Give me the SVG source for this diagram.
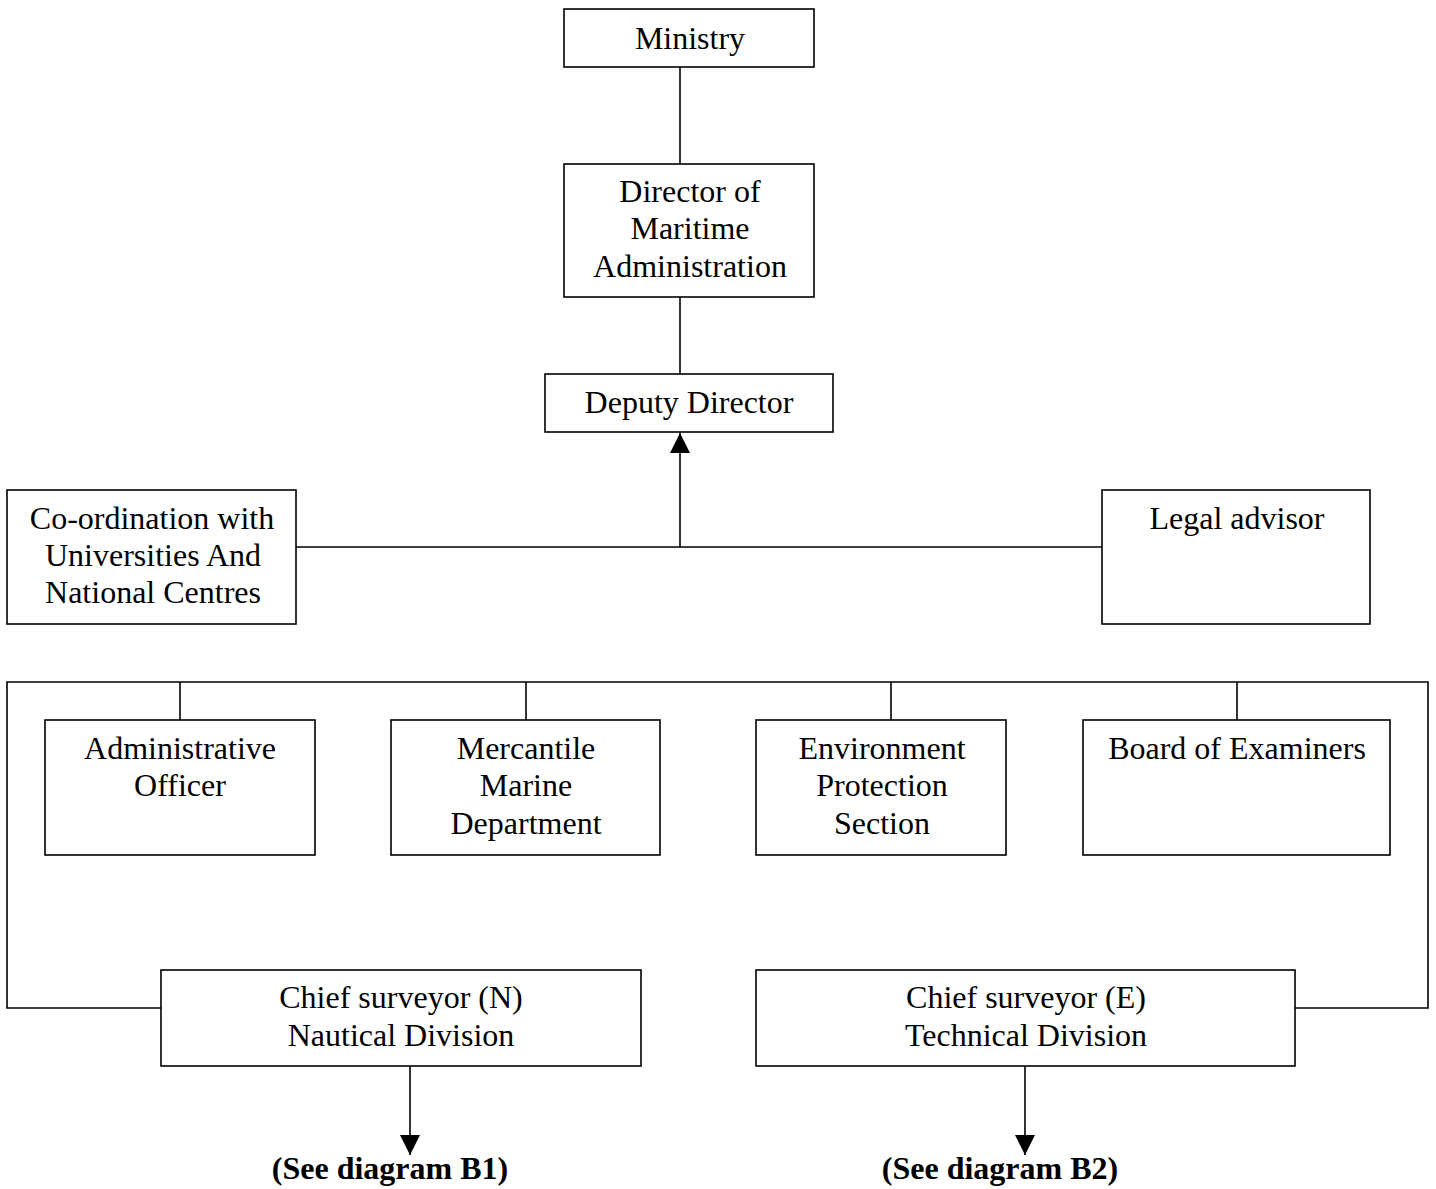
<svg xmlns="http://www.w3.org/2000/svg" width="1436" height="1189" viewBox="0 0 1436 1189">
<style>
.box{fill:#fff;stroke:#000;stroke-width:1.6}
.ln{fill:none;stroke:#000;stroke-width:1.6}
text{font-family:"Liberation Serif","Times New Roman",serif;font-size:32px;fill:#000;text-anchor:middle}
.b{font-weight:bold}
</style>
<defs>
<marker id="ah" viewBox="0 0 20 20" refX="20" refY="10" markerWidth="20" markerHeight="20" markerUnits="userSpaceOnUse" orient="auto">
<path d="M0,0 L20,10 L0,20 Z" fill="#000"/>
</marker>
</defs>
<g id="connectors">
<line class="ln" x1="680" y1="67" x2="680" y2="164"/>
<line class="ln" x1="680" y1="297" x2="680" y2="374"/>
<line class="ln" x1="296" y1="547" x2="1102" y2="547"/>
<line class="ln" x1="680" y1="547" x2="680" y2="433" marker-end="url(#ah)"/>
<polyline class="ln" points="161,1008 7,1008 7,682 1428,682 1428,1008 1295,1008"/>
<line class="ln" x1="180" y1="682" x2="180" y2="720"/>
<line class="ln" x1="526" y1="682" x2="526" y2="720"/>
<line class="ln" x1="891" y1="682" x2="891" y2="720"/>
<line class="ln" x1="1237" y1="682" x2="1237" y2="720"/>
<line class="ln" x1="410" y1="1066" x2="410" y2="1155" marker-end="url(#ah)"/>
<line class="ln" x1="1025" y1="1066" x2="1025" y2="1155" marker-end="url(#ah)"/>
</g>
<g id="ministry">
<rect class="box" x="564" y="9" width="250" height="58"/>
<text x="690" y="49">Ministry</text>
</g>
<g id="director">
<rect class="box" x="564" y="164" width="250" height="133"/>
<text x="690" y="202">Director of</text>
<text x="690" y="239">Maritime</text>
<text x="690" y="277">Administration</text>
</g>
<g id="deputy">
<rect class="box" x="545" y="374" width="288" height="58"/>
<text x="689" y="413">Deputy Director</text>
</g>
<g id="coordination">
<rect class="box" x="7" y="490" width="289" height="134"/>
<text x="152" y="529">Co-ordination with</text>
<text x="153" y="566">Universities And</text>
<text x="153" y="603">National Centres</text>
</g>
<g id="legal">
<rect class="box" x="1102" y="490" width="268" height="134"/>
<text x="1237" y="529">Legal advisor</text>
</g>
<g id="admin">
<rect class="box" x="45" y="720" width="270" height="135"/>
<text x="180" y="759">Administrative</text>
<text x="180" y="796">Officer</text>
</g>
<g id="mercantile">
<rect class="box" x="391" y="720" width="269" height="135"/>
<text x="526" y="759">Mercantile</text>
<text x="526" y="796">Marine</text>
<text x="526" y="834">Department</text>
</g>
<g id="environment">
<rect class="box" x="756" y="720" width="250" height="135"/>
<text x="882" y="759">Environment</text>
<text x="882" y="796">Protection</text>
<text x="882" y="834">Section</text>
</g>
<g id="board">
<rect class="box" x="1083" y="720" width="307" height="135"/>
<text x="1237" y="759">Board of Examiners</text>
</g>
<g id="chiefN">
<rect class="box" x="161" y="970" width="480" height="96"/>
<text x="401" y="1008">Chief surveyor (N)</text>
<text x="401" y="1046">Nautical Division</text>
</g>
<g id="chiefE">
<rect class="box" x="756" y="970" width="539" height="96"/>
<text x="1026" y="1008">Chief surveyor (E)</text>
<text x="1026" y="1046">Technical Division</text>
</g>
<g id="seeB1">
<text class="b" x="390" y="1179">(See diagram B1)</text>
</g>
<g id="seeB2">
<text class="b" x="1000" y="1179">(See diagram B2)</text>
</g>
</svg>
